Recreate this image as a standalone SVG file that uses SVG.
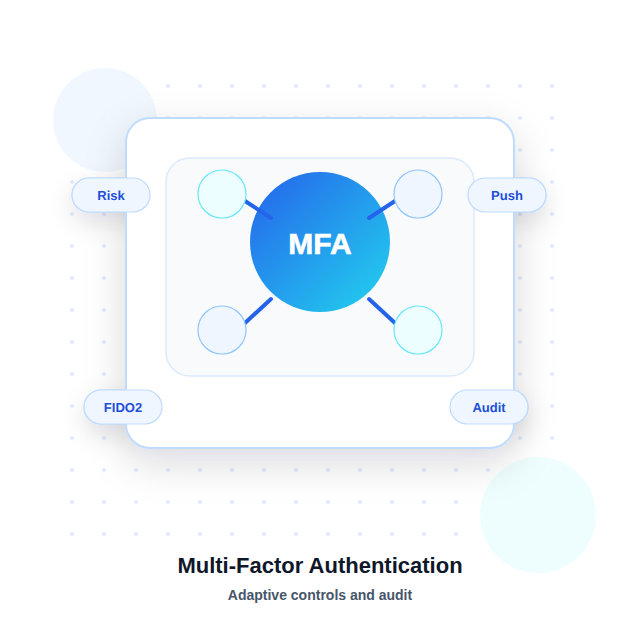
<svg xmlns="http://www.w3.org/2000/svg" width="640" height="640" viewBox="0 0 640 640">
<style>
.sans{font-family:"Liberation Sans",sans-serif}
.pill{fill:#eff6ff;stroke:#bfdbfe;stroke-width:1.2}
.pl{font-family:"Liberation Sans",sans-serif;font-size:13px;font-weight:700;fill:#1d4ed8;text-anchor:middle;text-rendering:geometricPrecision}
.sb{fill:#eff6ff;stroke:#93c5fd;stroke-width:1.2}
.sc{fill:#ecfeff;stroke:#67e8f9;stroke-width:1.2}
.c{stroke:#2563eb;stroke-width:4;stroke-linecap:round;fill:none}
.d{fill:#e0e7ff;opacity:.85}
</style>
<defs>
<linearGradient id="g" x1="0" y1="0" x2="1" y2="1"><stop offset="0" stop-color="#2563eb"/><stop offset="1" stop-color="#22d3ee"/></linearGradient>
<filter id="sh" x="-30%" y="-30%" width="160%" height="160%"><feDropShadow dx="0" dy="14" stdDeviation="20" flood-color="#0f172a" flood-opacity="0.15"/></filter>
<filter id="ps" x="-60%" y="-100%" width="220%" height="320%"><feDropShadow dx="0" dy="10" stdDeviation="12" flood-color="#0f172a" flood-opacity="0.12"/></filter>
<pattern id="dots" x="56" y="70" width="32" height="32" patternUnits="userSpaceOnUse"><circle cx="16" cy="16" r="2" class="d"/></pattern>
</defs>
<rect width="640" height="640" fill="#fff"/>
<rect x="64" y="78" width="496" height="464" fill="url(#dots)"/>
<circle cx="105" cy="120" r="52" fill="#eff6ff" opacity="0.9"/>
<circle cx="538" cy="515" r="58" fill="#ecfeff" opacity="0.9"/>
<g id="pill-shadows">
<rect class="pill" filter="url(#ps)" x="72" y="178" width="78" height="34" rx="17"/>
<rect class="pill" filter="url(#ps)" x="468" y="178" width="78" height="34" rx="17"/>
<rect class="pill" filter="url(#ps)" x="84" y="390" width="78" height="34" rx="17"/>
<rect class="pill" filter="url(#ps)" x="450" y="390" width="78" height="34" rx="17"/>
</g>
<g id="card"><rect x="126" y="118" width="388" height="330" rx="24" fill="#fff" stroke="#bfdbfe" stroke-width="2" filter="url(#sh)"/></g>
<g id="panel"><rect x="166" y="158" width="308" height="218" rx="24" fill="#f8fafc" stroke="#dbeafe" stroke-width="1.5"/></g>
<g id="hub"><circle cx="320" cy="242" r="70" fill="url(#g)"/><text x="320" y="254" text-anchor="middle" class="sans" font-size="30" font-weight="700" fill="#fff" stroke="#fff" stroke-width="0.6">MFA</text></g>
<g id="connectors">
<line class="c" x1="245" y1="201" x2="271" y2="218"/>
<line class="c" x1="395" y1="201" x2="369" y2="218"/>
<line class="c" x1="245" y1="323" x2="271" y2="299"/>
<line class="c" x1="395" y1="323" x2="369" y2="299"/>
</g>
<g id="sat-tl"><circle class="sc" cx="222" cy="194" r="24"/></g>
<g id="sat-tr"><circle class="sb" cx="418" cy="194" r="24"/></g>
<g id="sat-bl"><circle class="sb" cx="222" cy="330" r="24"/></g>
<g id="sat-br"><circle class="sc" cx="418" cy="330" r="24"/></g>
<g id="risk"><rect class="pill" x="72" y="178" width="78" height="34" rx="17"/><text class="pl" x="111" y="200">Risk</text></g>
<g id="push"><rect class="pill" x="468" y="178" width="78" height="34" rx="17"/><text class="pl" x="507" y="200">Push</text></g>
<g id="fido2"><rect class="pill" x="84" y="390" width="78" height="34" rx="17"/><text class="pl" x="123" y="412">FIDO2</text></g>
<g id="audit"><rect class="pill" x="450" y="390" width="78" height="34" rx="17"/><text class="pl" x="489" y="412">Audit</text></g>
<text x="320" y="573" text-anchor="middle" class="sans" font-size="22" font-weight="700" fill="#0f172a">Multi-Factor Authentication</text>
<text x="320" y="600" text-anchor="middle" class="sans" font-size="14" font-weight="700" fill="#475569">Adaptive controls and audit</text>
</svg>
